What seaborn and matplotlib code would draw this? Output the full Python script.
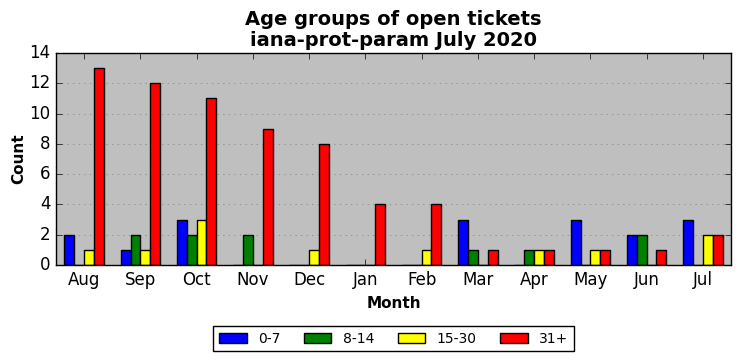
import pandas as pd
import seaborn as sns
import matplotlib
matplotlib.use("Agg")
import matplotlib.pyplot as plt

months = ["Aug", "Sep", "Oct", "Nov", "Dec", "Jan", "Feb", "Mar", "Apr", "May", "Jun", "Jul"]
groups = ["0-7", "8-14", "15-30", "31+"]
age_0_7 = [2, 1, 3, 0, 0, 0, 0, 3, 0, 3, 2, 3]
age_8_14 = [0, 2, 2, 2, 0, 0, 0, 1, 1, 0, 2, 0]
age_15_30 = [1, 1, 3, 0, 1, 0, 1, 0, 1, 1, 0, 2]
age_31_plus = [13, 12, 11, 9, 8, 4, 4, 1, 1, 1, 1, 2]
colours = ["blue", "green", "yellow", "red"]

rows = []
for g, vals in zip(groups, [age_0_7, age_8_14, age_15_30, age_31_plus]):
    for m, v in zip(months, vals):
        rows.append({"Month": m, "Group": g, "Count": v})
df = pd.DataFrame(rows)

plt.style.use("classic")
fig = plt.figure(figsize=(7.41, 3.61), dpi=100, facecolor="white")
ax = fig.add_subplot(111)
fig.subplots_adjust(left=0.0756, right=0.9865, top=0.8532, bottom=0.2659)

sns.barplot(data=df, x="Month", y="Count", hue="Group", order=months,
            hue_order=groups, palette=colours, width=0.7, edgecolor="black",
            linewidth=1, saturation=1, errorbar=None, ax=ax)

ax.set_facecolor("#bfbfbf")
ax.set_xlim(-0.5, 11.5)
ax.set_ylim(0, 14)
ax.set_yticks(range(0, 15, 2))
ax.yaxis.grid(True, linestyle=":", color="gray")
ax.xaxis.grid(False)
ax.set_axisbelow(True)
ax.tick_params(labelsize=12)
ax.set_title("Age groups of open tickets\niana-prot-param July 2020",
             fontsize=14, fontweight="bold", linespacing=1.15)
ax.set_xlabel("Month", fontsize=11, fontweight="bold")
ax.set_ylabel("Count", fontsize=11, fontweight="bold", labelpad=2)
ax.legend(loc="upper center", bbox_to_anchor=(0.5, -0.255), ncol=4,
          fontsize=10, frameon=True, fancybox=False, edgecolor="black",
          columnspacing=1.7, borderpad=0.4)

fig.savefig("out.png", dpi=100, facecolor="white")
